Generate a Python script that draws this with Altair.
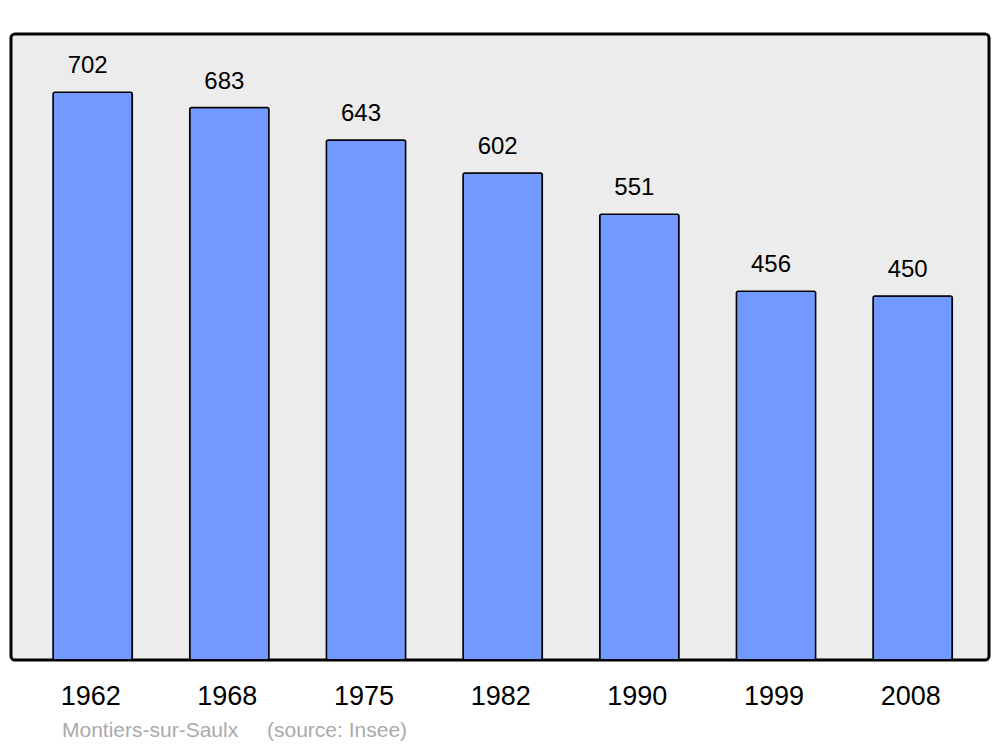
import altair as alt
import pandas as pd

years = ["1962", "1968", "1975", "1982", "1990", "1999", "2008"]
population = [702, 683, 643, 602, 551, 456, 450]
caption_texts = ["Montiers-sur-Saulx", "(source: Insee)"]
caption_offsets = [51, 256]

df = pd.DataFrame({"year": years, "pop": population})
cap = pd.DataFrame({"t": caption_texts, "px": caption_offsets})

FONT = "Liberation Sans"
W, H = 978, 626

x = alt.X("year:O", sort=years, axis=None,
          scale=alt.Scale(paddingInner=0.42, paddingOuter=0.288, align=0.534))
y = alt.Y("pop:Q", axis=None, scale=alt.Scale(domain=[0, 774], nice=False, zero=True))

bars = alt.Chart(df).mark_bar(
    fill="#7299ff", stroke="black", strokeWidth=1.5, cornerRadius=2
).encode(x=x, y=y)

values = alt.Chart(df).mark_text(
    font=FONT, fontSize=24, baseline="alphabetic", dy=-19, dx=-5, color="black"
).encode(x=x, y=y, text="pop:Q")

yearlabels = alt.Chart(df).mark_text(
    font=FONT, fontSize=27, baseline="alphabetic", dx=-2, color="black"
).encode(x=x, y=alt.value(671), text="year:N")

caption = alt.Chart(cap).mark_text(
    font=FONT, fontSize=21, baseline="alphabetic", align="left", color="#aaaaaa"
).encode(x=alt.X("px:Q", scale=None), y=alt.value(703), text="t:N")

chart = alt.layer(bars, values, yearlabels, caption).properties(
    width=W, height=H,
    padding={"left": 3, "top": 26, "right": 3, "bottom": 0},
    background="white",
).configure_view(
    stroke="black", strokeWidth=3, fill="#ececec", cornerRadius=4
)

chart.save("out.html", embed_options={"renderer": "svg", "actions": False})
